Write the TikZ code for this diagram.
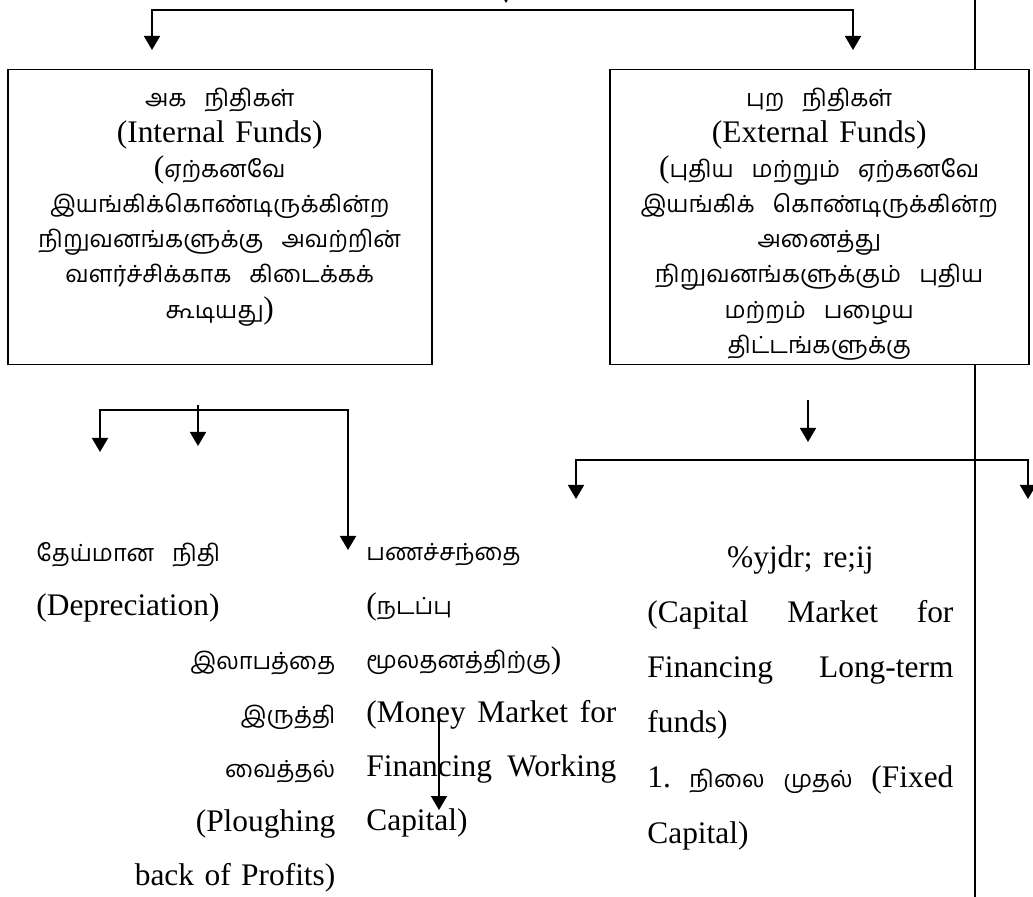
\documentclass[tikz,border=0pt]{standalone}
\usepackage{fontspec}
\setmainfont{Liberation Serif}
\newfontfamily\tam[Script=Tamil,Scale=0.75]{Hind Madurai}
\newcommand\tsp{\hspace{9pt}}
\usetikzlibrary{arrows.meta, positioning}

\tikzset{
  fundbox/.style={draw, line width=0.75pt, fill=white, anchor=north west,
    minimum width=212pt, minimum height=147.5pt, inner sep=0pt},
  boxtext/.style={anchor=north, text width=208pt, align=center, inner sep=0pt,
    font=\fontsize{15.7}{17.6}\selectfont},
  coltext/.style={anchor=north west, inner sep=0pt,
    font=\fontsize{15.7}{27}\selectfont},
  link/.style={line width=0.85pt},
  flow/.style={line width=0.85pt, -{Triangle[length=7pt,width=8pt]}},
  fork/.style={line width=0.85pt,
    {Triangle[length=7pt,width=8pt]}-{Triangle[length=7pt,width=8pt]}}
}

\begin{document}
\begin{tikzpicture}[x=0.5pt, y=-0.5pt]
\useasboundingbox (0,0) rectangle (1033,897);
\clip (0,0) rectangle (1033,897);

% free ends of the connectors
\coordinate (topin) at (506,-40);
\coordinate (topend) at (506,3);
\coordinate (intin) at (152,50);
\coordinate (forkr) at (853,10);
\coordinate (extin) at (853,50);
\coordinate (railtop) at (975,0);
\coordinate (railbot) at (975,897);

\draw[link] (railtop) -- (railbot);

% the two fund boxes
\node[fundbox] (intbox) at (7,69) {};
\node[fundbox, minimum width=209.5pt] (extbox) at (609,69) {};

\node[boxtext] (intlbl) at (intbox.north) [yshift=-9.5pt]
  {{\tam அக\tsp நிதிகள்}\\
   (Internal Funds)\\
   ({\tam ஏற்கனவே}\\
   {\tam இயங்கிக்கொண்டிருக்கின்ற}\\
   {\tam நிறுவனங்களுக்கு\tsp அவற்றின்}\\
   {\tam வளர்ச்சிக்காக\tsp கிடைக்கக்}\\
   {\tam கூடியது})};
\node[boxtext] (extlbl) at (extbox.north) [yshift=-9.5pt]
  {{\tam புற\tsp நிதிகள்}\\
   (External Funds)\\
   ({\tam புதிய\tsp மற்றும்\tsp ஏற்கனவே}\\
   {\tam இயங்கிக்\tsp கொண்டிருக்கின்ற}\\
   {\tam அனைத்து}\\
   {\tam நிறுவனங்களுக்கும்\tsp புதிய}\\
   {\tam மற்றம்\tsp பழைய}\\
   {\tam திட்டங்களுக்கு}};

\draw[flow] (topin) -- (topend);
\draw[fork] (intin) |- (forkr) -- (extin);

% sources below the internal funds
\coordinate (depin) at (100,452);
\coordinate (subr) at (348,410);
\coordinate (monin) at (348,550);
\coordinate (plout) at (198,405);
\coordinate (plin) at (198,446);

\draw[fork] (depin) |- (subr) -- (monin);
\draw[flow] (plout) -- (plin);

% sources below the external funds
\coordinate (extout) at (808,400);
\coordinate (extdown) at (808,442);
\coordinate (capin) at (576,499);
\coordinate (capr) at (1028,460);
\coordinate (farin) at (1028,499);

\draw[flow] (extout) -- (extdown);
\draw[fork] (capin) |- (capr) -- (farin);

% the three columns of sources
\node[coltext, text width=149.5pt, align=right] (deprec) at (36,542)
  {\makebox[\linewidth][l]{\tam தேய்மான\tsp நிதி}\\
   \makebox[\linewidth][l]{(Depreciation)}\\
   {\tam இலாபத்தை}\\
   {\tam இருத்தி}\\
   {\tam வைத்தல்}\\
   (Ploughing\\
   back of Profits)};
\node[coltext, text width=125pt, align=left] (money) at (366,543)
  {{\tam பணச்சந்தை}\\
   ({\tam நடப்பு}\\
   {\tam மூலதனத்திற்கு})\\
   \makebox[\linewidth][s]{(Money\hfill Market\hfill for}\\
   \makebox[\linewidth][s]{Financing\hfill Working}\\
   Capital)};
\node[coltext, text width=153pt, align=left,
  font=\fontsize{15.7}{27.6}\selectfont] (capital) at (647,545)
  {\makebox[\linewidth][c]{\%yjdr; re;ij}\\
   \makebox[\linewidth][s]{(Capital\hfill Market\hfill for}\\
   \makebox[\linewidth][s]{Financing\hfill Long-term}\\
   funds)\\
   \makebox[\linewidth][s]{1.\hfill{\tam நிலை}\hfill{\tam முதல்}\hfill(Fixed}\\
   Capital)};

\coordinate (monout) at (439,715);
\coordinate (monend) at (439,810);
\draw[flow] (monout) -- (monend);
\end{tikzpicture}
\end{document}
